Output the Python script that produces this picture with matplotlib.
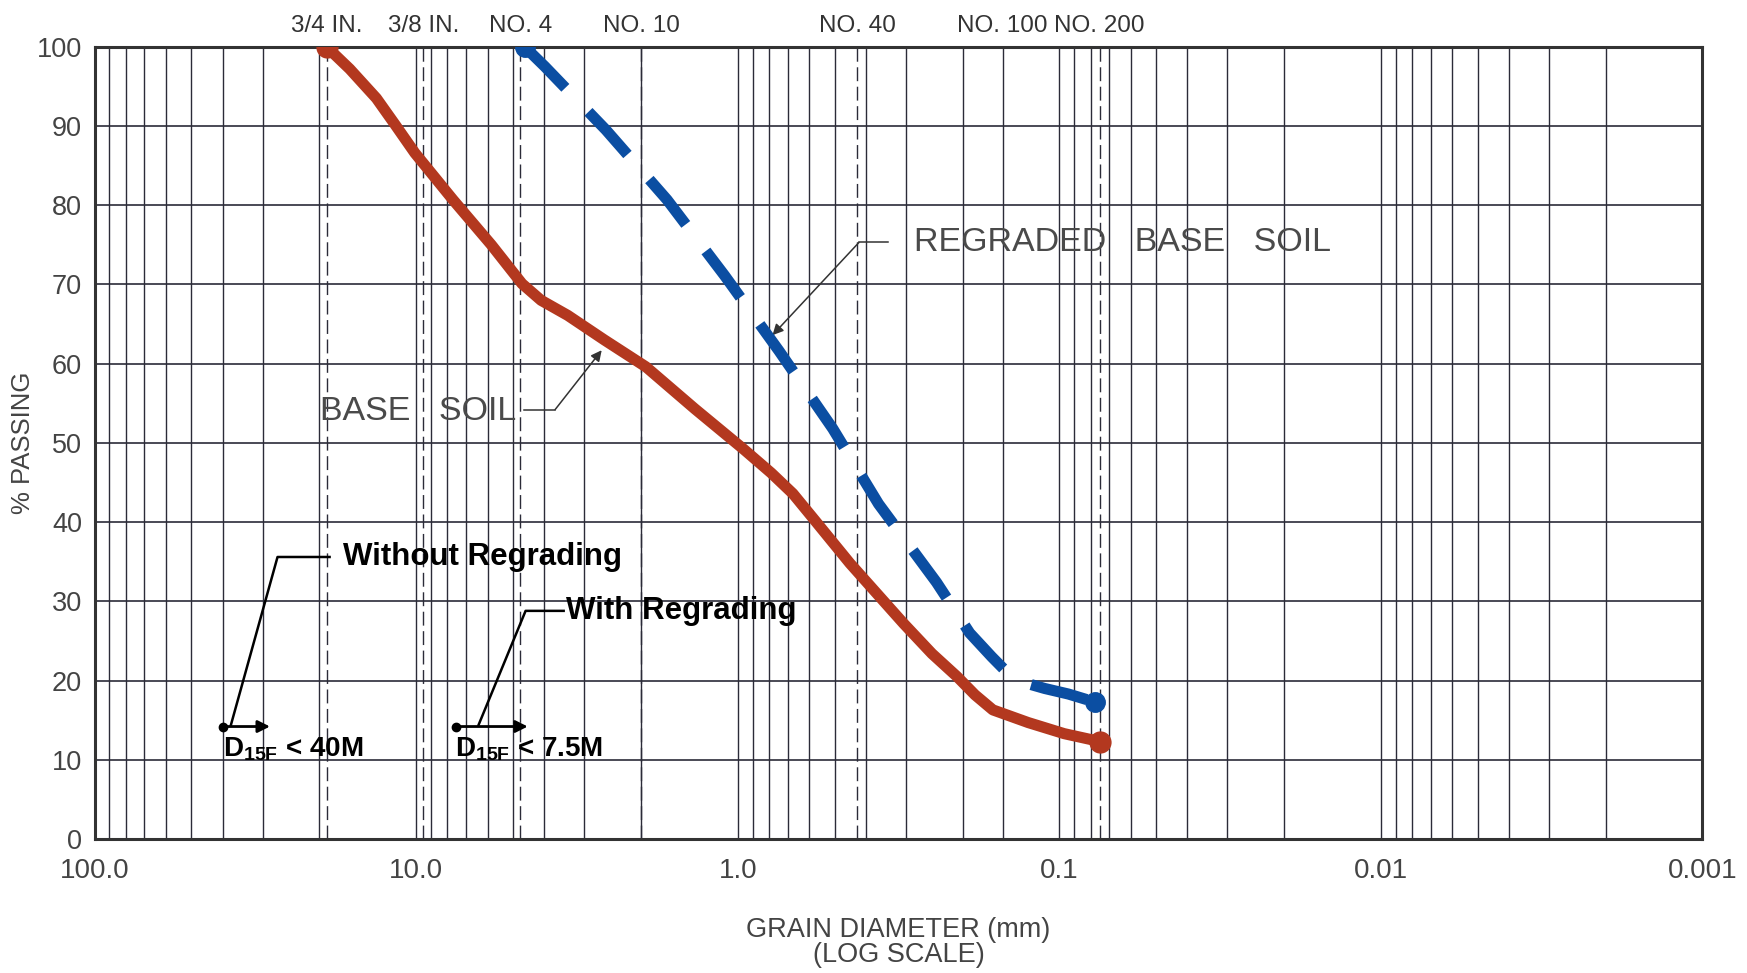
import numpy as np
import matplotlib
matplotlib.use('Agg')
import matplotlib.pyplot as plt
from matplotlib.ticker import LogLocator, NullFormatter

# sieve openings (mm) and their labels along the top edge
sieve_sizes = [19.0, 9.5, 4.75, 2.0, 0.425, 0.15, 0.075]
sieve_labels = ['3/4 IN.', '3/8 IN.', 'NO. 4', 'NO. 10', 'NO. 40', 'NO. 100', 'NO. 200']

# bottom axis
xticks = [100, 10, 1, 0.1, 0.01, 0.001]
xtick_labels = ['100.0', '10.0', '1.0', '0.1', '0.01', '0.001']
yticks = list(range(0, 101, 10))

# base soil gradation curve (grain diameter mm, % passing)
base_diam = [19.0, 16.1, 13.3, 11.6, 10.1, 7.69, 5.84, 4.69, 4.09, 3.38, 2.6, 1.93, 1.36,
             0.965, 0.787, 0.674, 0.578, 0.448, 0.305, 0.249, 0.208, 0.183, 0.161, 0.125,
             0.0966, 0.0747]
base_pass = [100, 97.2, 93.5, 90.1, 86.6, 80.7, 75.0, 70.1, 68.0, 66.1, 63.0, 59.6, 54.3,
             49.3, 46.2, 43.6, 40.3, 34.8, 27.2, 23.4, 20.5, 18.2, 16.3, 14.7,
             13.3, 12.3]

# regraded base soil (minus No. 4 fraction)
regr_diam = [4.6, 3.98, 2.57, 1.66, 1.098, 0.744, 0.5065, 0.365, 0.241, 0.19, 0.1623,
             0.138, 0.111, 0.0937, 0.0777]
regr_pass = [100, 97.5, 89.5, 80.7, 71.1, 61.6, 51.8, 42.3, 32.4, 26.0, 23.0,
             20.1, 19.0, 18.3, 17.3]

plt.rcParams['mathtext.fontset'] = 'custom'
plt.rcParams['mathtext.rm'] = 'Liberation Sans'
plt.rcParams['mathtext.bf'] = 'Liberation Sans:bold'

cad = ['Liberation Sans', 'DejaVu Sans']
gridc = '#2b2b38'
txtc = '#4a4a4a'

fig = plt.figure(figsize=(17.47, 9.73), dpi=100)
ax = fig.add_axes([0.0542, 0.1377, 0.9203, 0.8142])
ax.set_xscale('log')
ax.set_xlim(100, 0.001)
ax.set_ylim(0, 100)

ax.set_xticks(xticks, xtick_labels)
ax.xaxis.set_minor_locator(LogLocator(base=10, subs=np.arange(2, 10), numticks=60))
ax.xaxis.set_minor_formatter(NullFormatter())
ax.set_yticks(yticks)
ax.tick_params(which='both', length=0)
ax.tick_params(axis='x', pad=14, labelsize=20, labelcolor='#444')
ax.tick_params(axis='y', pad=9, labelsize=19.5, labelcolor='#444')
for lab in ax.get_xticklabels() + ax.get_yticklabels():
    lab.set_family(cad)

ax.grid(which='both', axis='x', color=gridc, lw=1.0)
ax.grid(which='major', axis='y', color=gridc, lw=1.2)
for s in sieve_sizes:
    if s == 0.15:
        ax.axvline(s, color=gridc, lw=1.0)
    else:
        ax.axvline(s, color=gridc, lw=1.0, ls=(0, (10, 4)))
for sp in ax.spines.values():
    sp.set_linewidth(2.2)
    sp.set_color('#333')

for s, lab in zip(sieve_sizes, sieve_labels):
    ax.text(s, 1.012, lab, transform=ax.get_xaxis_transform(), ha='center', va='bottom',
            fontsize=17.5, family=cad, color='#333')

ax.set_ylabel('% PASSING', fontsize=18.5, family=cad, color='#444')
ax.yaxis.set_label_coords(-0.037, 0.5)
ax.set_xlabel('GRAIN DIAMETER (mm)\n(LOG SCALE)', fontsize=19.5, family=cad, color='#444',
              linespacing=0.95)
ax.xaxis.set_label_coords(0.5, -0.099)

# gradation curves
ax.plot(base_diam, base_pass, color='#b3381f', lw=8, solid_capstyle='round',
        solid_joinstyle='round', marker='o', ms=15, markevery=[0, len(base_diam) - 1], zorder=5)
ax.plot(regr_diam, regr_pass, color='#0b4ea2', lw=8, ls=(0, (5.2, 3.0)), dash_capstyle='butt',
        dash_joinstyle='round', marker='o', ms=14, markevery=[0, len(regr_diam) - 1], zorder=5)

# curve labels with leaders
ax.text(0.284, 75.3, 'REGRADED   BASE   SOIL', fontsize=24.5, family=cad, color=txtc, va='center')
ax.plot([0.341, 0.42], [75.3, 75.3], color='#333', lw=1.1)
ax.annotate('', xy=(0.78, 63.6), xytext=(0.42, 75.3),
            arrowprops=dict(arrowstyle='-|>', color='#333', lw=1.1, mutation_scale=16,
                            shrinkA=0, shrinkB=0))

ax.text(19.9, 54.0, 'BASE   SOIL', fontsize=24.5, family=cad, color=txtc, va='center')
ax.plot([4.62, 3.70], [54.2, 54.2], color='#333', lw=1.1)
ax.annotate('', xy=(2.65, 61.7), xytext=(3.70, 54.2),
            arrowprops=dict(arrowstyle='-|>', color='#333', lw=1.1, mutation_scale=16,
                            shrinkA=0, shrinkB=0))

# D15F filter criteria
ax.text(16.9, 35.6, 'Without Regrading', fontsize=22.5, family=cad, fontweight='bold',
        color='black', va='center')
ax.plot([18.6, 27.0, 37.7], [35.6, 35.6, 14.4], color='black', lw=1.8)
ax.plot([40], [14.2], 'o', color='black', ms=6)
ax.annotate('', xy=(28.5, 14.2), xytext=(40, 14.2),
            arrowprops=dict(arrowstyle='-|>', color='black', lw=2, mutation_scale=18,
                            shrinkA=0, shrinkB=0))
ax.text(40, 11.3, r'$\mathbf{D}_{\mathbf{15F}}$ < 40M', fontsize=20, family=cad,
        fontweight='bold', color='black', va='center')

ax.text(3.43, 28.8, 'With Regrading', fontsize=22.5, family=cad, fontweight='bold',
        color='black', va='center')
ax.plot([3.48, 4.57, 6.4], [28.8, 28.8, 14.4], color='black', lw=1.8)
ax.plot([7.5], [14.2], 'o', color='black', ms=6)
ax.annotate('', xy=(4.5, 14.2), xytext=(7.5, 14.2),
            arrowprops=dict(arrowstyle='-|>', color='black', lw=2, mutation_scale=18,
                            shrinkA=0, shrinkB=0))
ax.text(7.6, 11.3, r'$\mathbf{D}_{\mathbf{15F}}$ < 7.5M', fontsize=20, family=cad,
        fontweight='bold', color='black', va='center')

fig.savefig('out.png', dpi=100, facecolor='white')
